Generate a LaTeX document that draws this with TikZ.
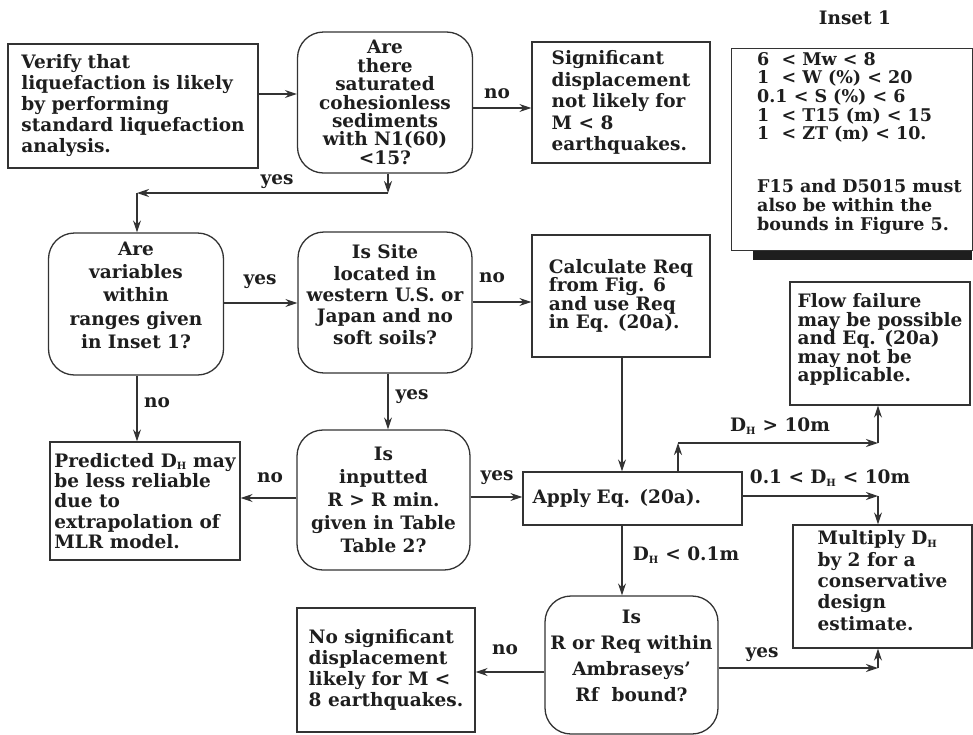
\documentclass[tikz,border=0pt]{standalone}
\usepackage{fontspec}
\setmainfont{DejaVu Serif}
\usetikzlibrary{arrows.meta}
\definecolor{ink}{HTML}{1E1E1E}
\definecolor{line}{HTML}{333333}
\tikzset{
  fs/.style={font=\fontsize{18.5}{#1}\selectfont\bfseries, text=ink},
  box/.style={draw=line, line width=1.3pt, align=left, inner sep=0pt},
  dec/.style={draw=line, line width=1.3pt, rounded corners=26pt, align=center, inner sep=0pt},
  arr/.style={draw=line, line width=1.3pt, -{Stealth[length=12pt,width=8pt]}},
  lab/.style={fs=21, inner sep=1pt}
}
\newcommand{\dhsub}{D\textsubscript{\fontsize{10}{10}\selectfont H}}
\begin{document}
\begin{tikzpicture}[x=1pt,y=-1pt]
\useasboundingbox (0,0) rectangle (973,734);
\fill[white] (0,0) rectangle (973,734);

% boxes
\node[box, fs=21, minimum width=250pt, minimum height=124pt] (v) at (133,106)
  {Verify that\\liquefaction is likely\\by performing\\standard liquefaction\\analysis.};
\node[dec, fs=18.4, minimum width=175pt, minimum height=141pt] (d1) at (385,102.5)
  {Are\\there\\saturated\\cohesionless\\sediments\\with N1(60)\\<15?};
\node[box, fs=21.5, minimum width=178pt, minimum height=121pt] (s) at (621,102.5)
  {Significant\\displacement\\not likely for\\M < 8\\earthquakes.};

\node[lab] (it) at (855,18) {Inset 1};
\fill[ink] (753,246) rectangle (972,260);
\node[box, fill=white, minimum width=241pt, minimum height=202pt, anchor=north west] (ins) at (730.5,48) {};
\node[anchor=north west, align=left, inner sep=0pt, font=\fontsize{17.5}{18.7}\selectfont\bfseries, text=ink] (inst) at (757,52)
  {6~~< Mw < 8\\1~~< W (\%) < 20\\0.1 < S (\%) < 6\\1~~< T15 (m) < 15\\1~~< ZT (m) < 10.\\[34pt]
   \fontsize{17.5}{20}\selectfont F15 and D5015 must\\also be within the\\bounds in Figure 5.};

\node[dec, fs=23.3, text depth=18pt, minimum width=175pt, minimum height=142pt] (d2) at (136,304)
  {Are\\variables\\within\\ranges given\\in Inset 1?};
\node[dec, fs=21.3, text depth=16pt, minimum width=174pt, minimum height=141pt] (d3) at (385,302.5)
  {Is Site\\located in\\western U.S. or\\Japan and no\\soft soils?};
\node[box, fs=18.5, minimum width=178pt, minimum height=122pt] (c) at (621,296)
  {Calculate Req\\from Fig. 6\\and use Req\\in Eq. (20a).};
\node[box, fs=18.5, text depth=12pt, minimum width=180pt, minimum height=123pt] (f) at (880,343.5)
  {Flow failure\\may be possible\\and Eq. (20a)\\may not be\\applicable.};

\node[box, fs=20.3, minimum width=190pt, minimum height=118pt] (p) at (145,501)
  {Predicted \dhsub{} may\\be less reliable\\due to\\extrapolation of\\MLR model.};
\node[dec, fs=23, minimum width=173pt, minimum height=140pt] (d4) at (383.5,500)
  {Is\\inputted\\R > R min.\\given in Table\\Table 2?};
\node[box, fs=21, minimum width=219pt, minimum height=53pt, text width=200pt] (a) at (632.5,498.5)
  {Apply Eq. (20a).};
\node[box, fs=21.3, text depth=12pt, minimum width=179pt, minimum height=123pt] (m) at (882.5,586.5)
  {Multiply \dhsub\\by 2 for a\\conservative\\design\\estimate.};

\node[box, fs=21, minimum width=178pt, minimum height=124pt] (n) at (386,670)
  {No significant\\displacement\\likely for M <\\8 earthquakes.};
\node[dec, fs=26, text depth=18pt, minimum width=173pt, minimum height=138pt] (d5) at (631.5,665)
  {Is\\R or Req within\\Ambraseys'\\Rf~ bound?};

% connectors
\draw[arr] (v.east |- 0,94) -- (d1.west |- 0,94);
\draw[arr] (d1.east |- 0,108) -- (s.west |- 0,108);
\node[lab] (l1) at (497,94) {no};

\coordinate (y1) at (388,193);
\coordinate (y2) at (137,193);
\draw[arr] (d1.south -| y1) -- (y1);
\draw[arr] (y1) -- (y2);
\draw[arr] (y2) -- (d2.north -| y2);
\node[lab] (l2) at (277,182) {yes};

\draw[arr] (d2.east |- 0,303) -- (d3.west |- 0,303);
\node[lab] (l3) at (260,282) {yes};
\draw[arr] (d3.east |- 0,302) -- (c.west |- 0,302);
\node[lab] (l4) at (492,278) {no};

\draw[arr] (d2.south -| 137,0) -- (p.north -| 137,0);
\node[lab] (l5) at (157,403) {no};
\draw[arr] (d3.south -| 388,0) -- (d4.north -| 388,0);
\node[lab] (l6) at (412,397) {yes};

\draw[arr] (d4.west |- 0,498) -- (p.east |- 0,498);
\node[lab] (l7) at (270,478) {no};
\draw[arr] (d4.east |- 0,497) -- (a.west |- 0,497);
\node[lab] (l8) at (497,478) {yes};

\draw[arr] (c.south -| 622,0) -- (a.north -| 622,0);

\coordinate (g1) at (678,443);
\coordinate (g2) at (878,443);
\draw[arr] (a.north -| g1) -- (g1);
\draw[arr] (g1) -- (g2);
\draw[arr] (g2) -- (f.south -| g2);
\node[lab] (l9) at (780,426) {\dhsub{} > 10m};

\coordinate (h1) at (878,496);
\draw[arr] (a.east |- h1) -- (h1);
\draw[arr] (h1) -- (m.north -| h1);
\node[lab] (l10) at (830,478) {0.1 < \dhsub{} < 10m};

\draw[arr] (a.south -| 622,0) -- (d5.north -| 622,0);
\node[lab] (l11) at (686,555) {\dhsub{} < 0.1m};

\coordinate (k1) at (878,668);
\draw[arr] (d5.east |- k1) -- (k1);
\draw[arr] (k1) -- (m.south -| k1);
\node[lab] (l12) at (762,655) {yes};

\draw[arr] (d5.west |- 0,672) -- (n.east |- 0,672);
\node[lab] (l13) at (505,650) {no};
\end{tikzpicture}
\end{document}
